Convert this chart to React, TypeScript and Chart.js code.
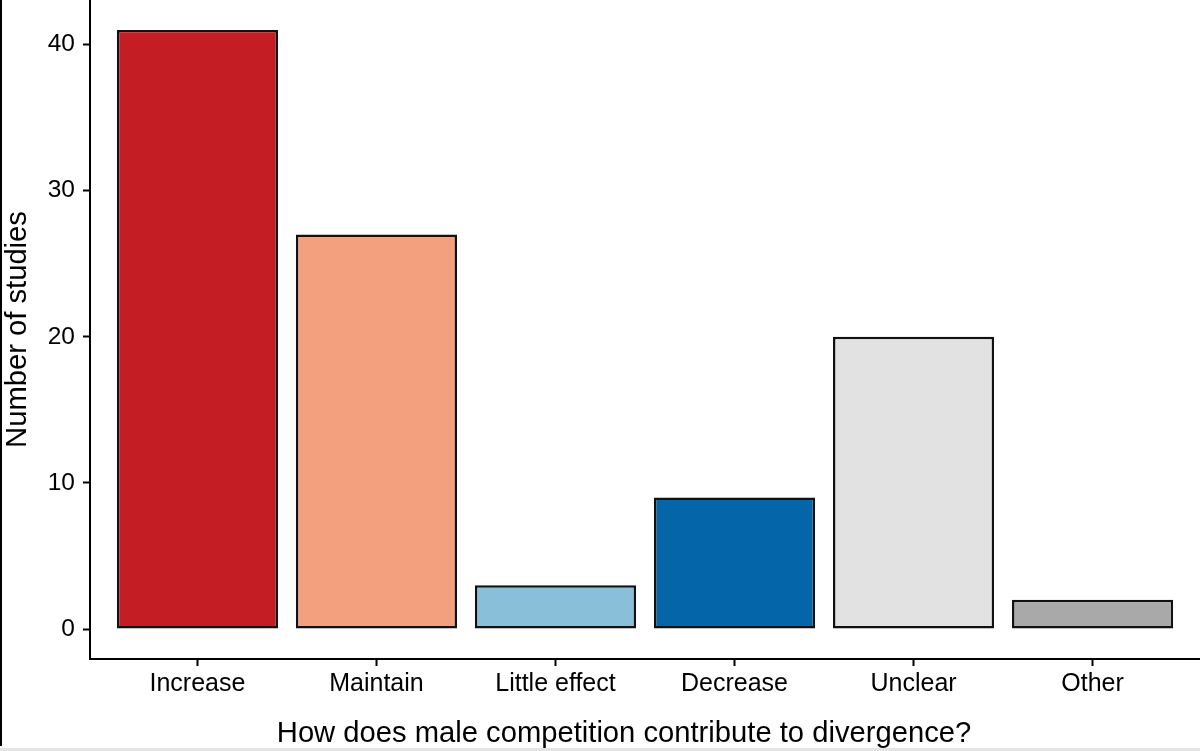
import React, { useEffect, useRef } from "react";
import { Chart, registerables } from "chart.js";

Chart.register(...registerables);

const categories = ["Increase", "Maintain", "Little effect", "Decrease", "Unclear", "Other"];
const studyCounts = [41, 27, 3, 9, 20, 2];
const barColors = ["#C41E24", "#F3A07E", "#89BFD9", "#0465A8", "#E2E2E2", "#A9A9A9"];
const yTickValues = [0, 10, 20, 30, 40];
const xTitle = "How does male competition contribute to divergence?";
const yTitle = "Number of studies";

const FONT = "'Liberation Sans', Arial, Helvetica, sans-serif";
const TITLE_SIZE = 29.2;

// Draws the x-axis title centred slightly left of the panel centre, as in the reference
const xTitlePlugin = {
  id: "xTitlePlugin",
  afterDraw(chart: any) {
    const { ctx } = chart;
    const xScale = chart.scales.x;
    ctx.save();
    ctx.font = `${TITLE_SIZE}px ${FONT}`;
    ctx.fillStyle = "#000";
    ctx.textAlign = "center";
    ctx.textBaseline = "middle";
    const cx = (xScale.left + xScale.right) / 2 - 21;
    const cy = xScale.bottom - (TITLE_SIZE * 1.2) / 2;
    ctx.fillText(xTitle, cx, cy);
    ctx.restore();
  },
};

export default function App() {
  const canvasRef = useRef<HTMLCanvasElement | null>(null);

  useEffect(() => {
    if (!canvasRef.current) return;
    const points = categories.map((_, i) => ({ x: i, y: studyCounts[i] }));
    const chart = new Chart(canvasRef.current, {
      type: "bar",
      data: {
        datasets: [
          {
            data: points as any,
            backgroundColor: barColors,
            borderColor: "#111",
            borderWidth: 2.5,
            borderSkipped: false,
            barPercentage: 0.9,
            categoryPercentage: 1,
          },
        ],
      },
      plugins: [xTitlePlugin],
      options: {
        animation: false,
        responsive: true,
        maintainAspectRatio: false,
        layout: { padding: 0 },
        plugins: {
          legend: { display: false },
          tooltip: { enabled: false },
        },
        scales: {
          x: {
            type: "linear",
            min: -0.6,
            max: 5.6,
            offset: false,
            afterFit: (scale: any) => {
              scale.height = 92;
              scale.paddingLeft = 0;
              scale.paddingRight = 0;
            },
            afterBuildTicks: (scale: any) => {
              scale.ticks = categories.map((_, i) => ({ value: i }));
            },
            ticks: {
              autoSkip: false,
              maxRotation: 0,
              padding: 3,
              color: "#000",
              font: { family: FONT, size: 25 },
              callback: (v: any) => categories[Math.round(Number(v))] ?? "",
            },
            grid: {
              offset: false,
              drawOnChartArea: false,
              drawTicks: true,
              tickLength: 7,
              tickColor: "#000",
              tickWidth: 2,
            },
            border: { display: true, color: "#000", width: 2 },
            title: { display: false },
          },
          y: {
            type: "linear",
            min: -2.05,
            max: 43.05,
            afterFit: (scale: any) => {
              scale.width = 90;
              scale.paddingTop = 0;
              scale.paddingBottom = 0;
            },
            afterBuildTicks: (scale: any) => {
              scale.ticks = yTickValues.map((v) => ({ value: v }));
            },
            ticks: {
              padding: 8,
              color: "#000",
              font: { family: FONT, size: 24.5 },
            },
            grid: {
              drawOnChartArea: false,
              drawTicks: true,
              tickLength: 7,
              tickColor: "#000",
              tickWidth: 2,
            },
            border: { display: true, color: "#000", width: 2 },
            title: {
              display: true,
              text: yTitle,
              color: "#000",
              font: { family: FONT, size: TITLE_SIZE },
              padding: { top: 0, bottom: 0 },
            },
          },
        },
      },
    });
    return () => chart.destroy();
  }, []);

  return (
    <div
      style={{
        position: "fixed",
        left: 0,
        top: 0,
        width: 1200,
        height: 751,
        background: "#fff",
      }}
    >
      <canvas ref={canvasRef} />
      <div
        style={{
          position: "absolute",
          left: 0,
          top: 0,
          width: 2,
          height: 746,
          background: "#000",
        }}
      />
      <div
        style={{
          position: "absolute",
          left: 0,
          bottom: 0,
          width: 1200,
          height: 3,
          background: "#e4e4e4",
        }}
      />
    </div>
  );
}
